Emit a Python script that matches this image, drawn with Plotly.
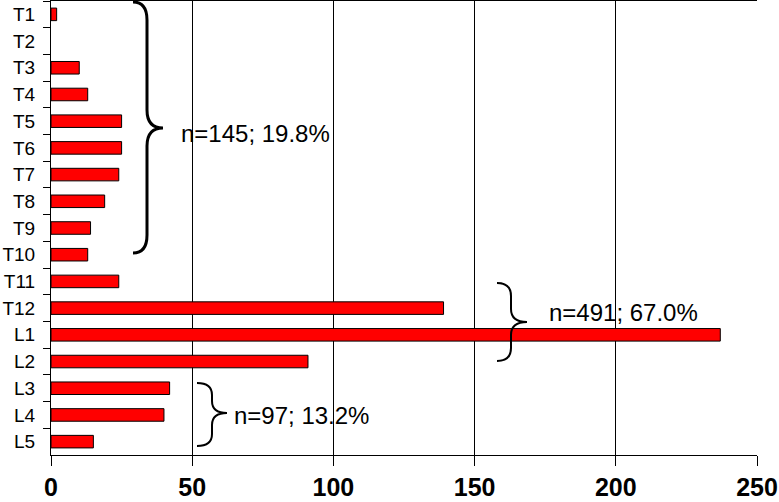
import plotly.graph_objects as go

segments = ["T1", "T2", "T3", "T4", "T5", "T6", "T7", "T8", "T9", "T10", "T11", "T12",
            "L1", "L2", "L3", "L4", "L5"]
counts = [2, 0, 10, 13, 25, 25, 24, 19, 14, 13, 24, 139, 237, 91, 42, 40, 15]
x_ticks = [0, 50, 100, 150, 200, 250]
group_labels = ["n=145; 19.8%", "n=491; 67.0%", "n=97; 13.2%"]

W, H = 779, 502
ML, MR, MT, MB = 51, 22, 1, 47
PW, PH = W - ML - MR, H - MT - MB


def px(x, y):
    # pixel position -> paper coords
    return (x - ML) / PW, 1 - (y - MT) / PH


def brace_path(xl, xm, xt, y0, ym, y1, r):
    pts = [
        ("M", [(xl, y0)]),
        ("Q", [(xm, y0), (xm, y0 + r)]),
        ("L", [(xm, ym - r)]),
        ("Q", [(xm, ym), (xt, ym)]),
        ("Q", [(xm, ym), (xm, ym + r)]),
        ("L", [(xm, y1 - r)]),
        ("Q", [(xm, y1), (xl, y1)]),
    ]
    out = []
    for cmd, ps in pts:
        coords = " ".join("%.5f,%.5f" % px(a, b) for a, b in ps)
        out.append(cmd + " " + coords)
    return " ".join(out)


fig = go.Figure()
fig.add_trace(go.Bar(
    x=counts, y=segments, orientation="h",
    marker_color="#FF0000", marker_line_color="black",
    marker_line_width=[1 if v > 0 else 0 for v in counts],
))

braces = [
    (133, 147, 163, 2, 128, 253, 18, 3),
    (497, 511, 527, 283, 322, 361, 13, 2),
    (197, 212, 227, 383, 413, 446, 12, 2),
]
for xl, xm, xt, y0, ym, y1, r, w in braces:
    fig.add_shape(type="path", xref="paper", yref="paper",
                  path=brace_path(xl, xm, xt, y0, ym, y1, r),
                  line=dict(color="black", width=w))

label_pos = [(179, 133), (547, 312), (232, 415)]
for txt, (lx, ly) in zip(group_labels, label_pos):
    ax, ay = px(lx, ly)
    fig.add_annotation(text=txt, xref="paper", yref="paper", x=ax, y=ay,
                       xanchor="left", yanchor="middle", showarrow=False,
                       font=dict(size=24, color="black", family="Liberation Sans, Arial"))

fig.update_layout(
    width=W, height=H,
    margin=dict(l=ML, r=MR, t=MT, b=MB),
    plot_bgcolor="white", paper_bgcolor="white",
    showlegend=False, bargap=0.53,
    font=dict(family="Liberation Sans, Arial", color="black"),
)
fig.update_xaxes(
    range=[0, 250], tickvals=x_ticks, showgrid=True, gridcolor="black", gridwidth=1,
    showline=True, linecolor="black", linewidth=1, mirror=True, automargin=False,
    ticks="outside", ticklen=10, tickcolor="black", zeroline=False,
    tickfont=dict(size=25, family="Liberation Sans, Arial", weight="bold"),
)
fig.update_yaxes(
    type="category", categoryorder="array", categoryarray=segments, autorange="reversed",
    showline=True, linecolor="black", linewidth=1, showgrid=False, automargin=False,
    ticks="outside", ticklen=7, tickcolor="black", tickson="boundaries",
    ticklabelstandoff=11, tickfont=dict(size=19),
)

# page body has a default 8px margin; drop it so the figure sits at 0,0
fig.write_html("out.html", config={"displayModeBar": False},
               post_script="document.body.style.margin='0';")
